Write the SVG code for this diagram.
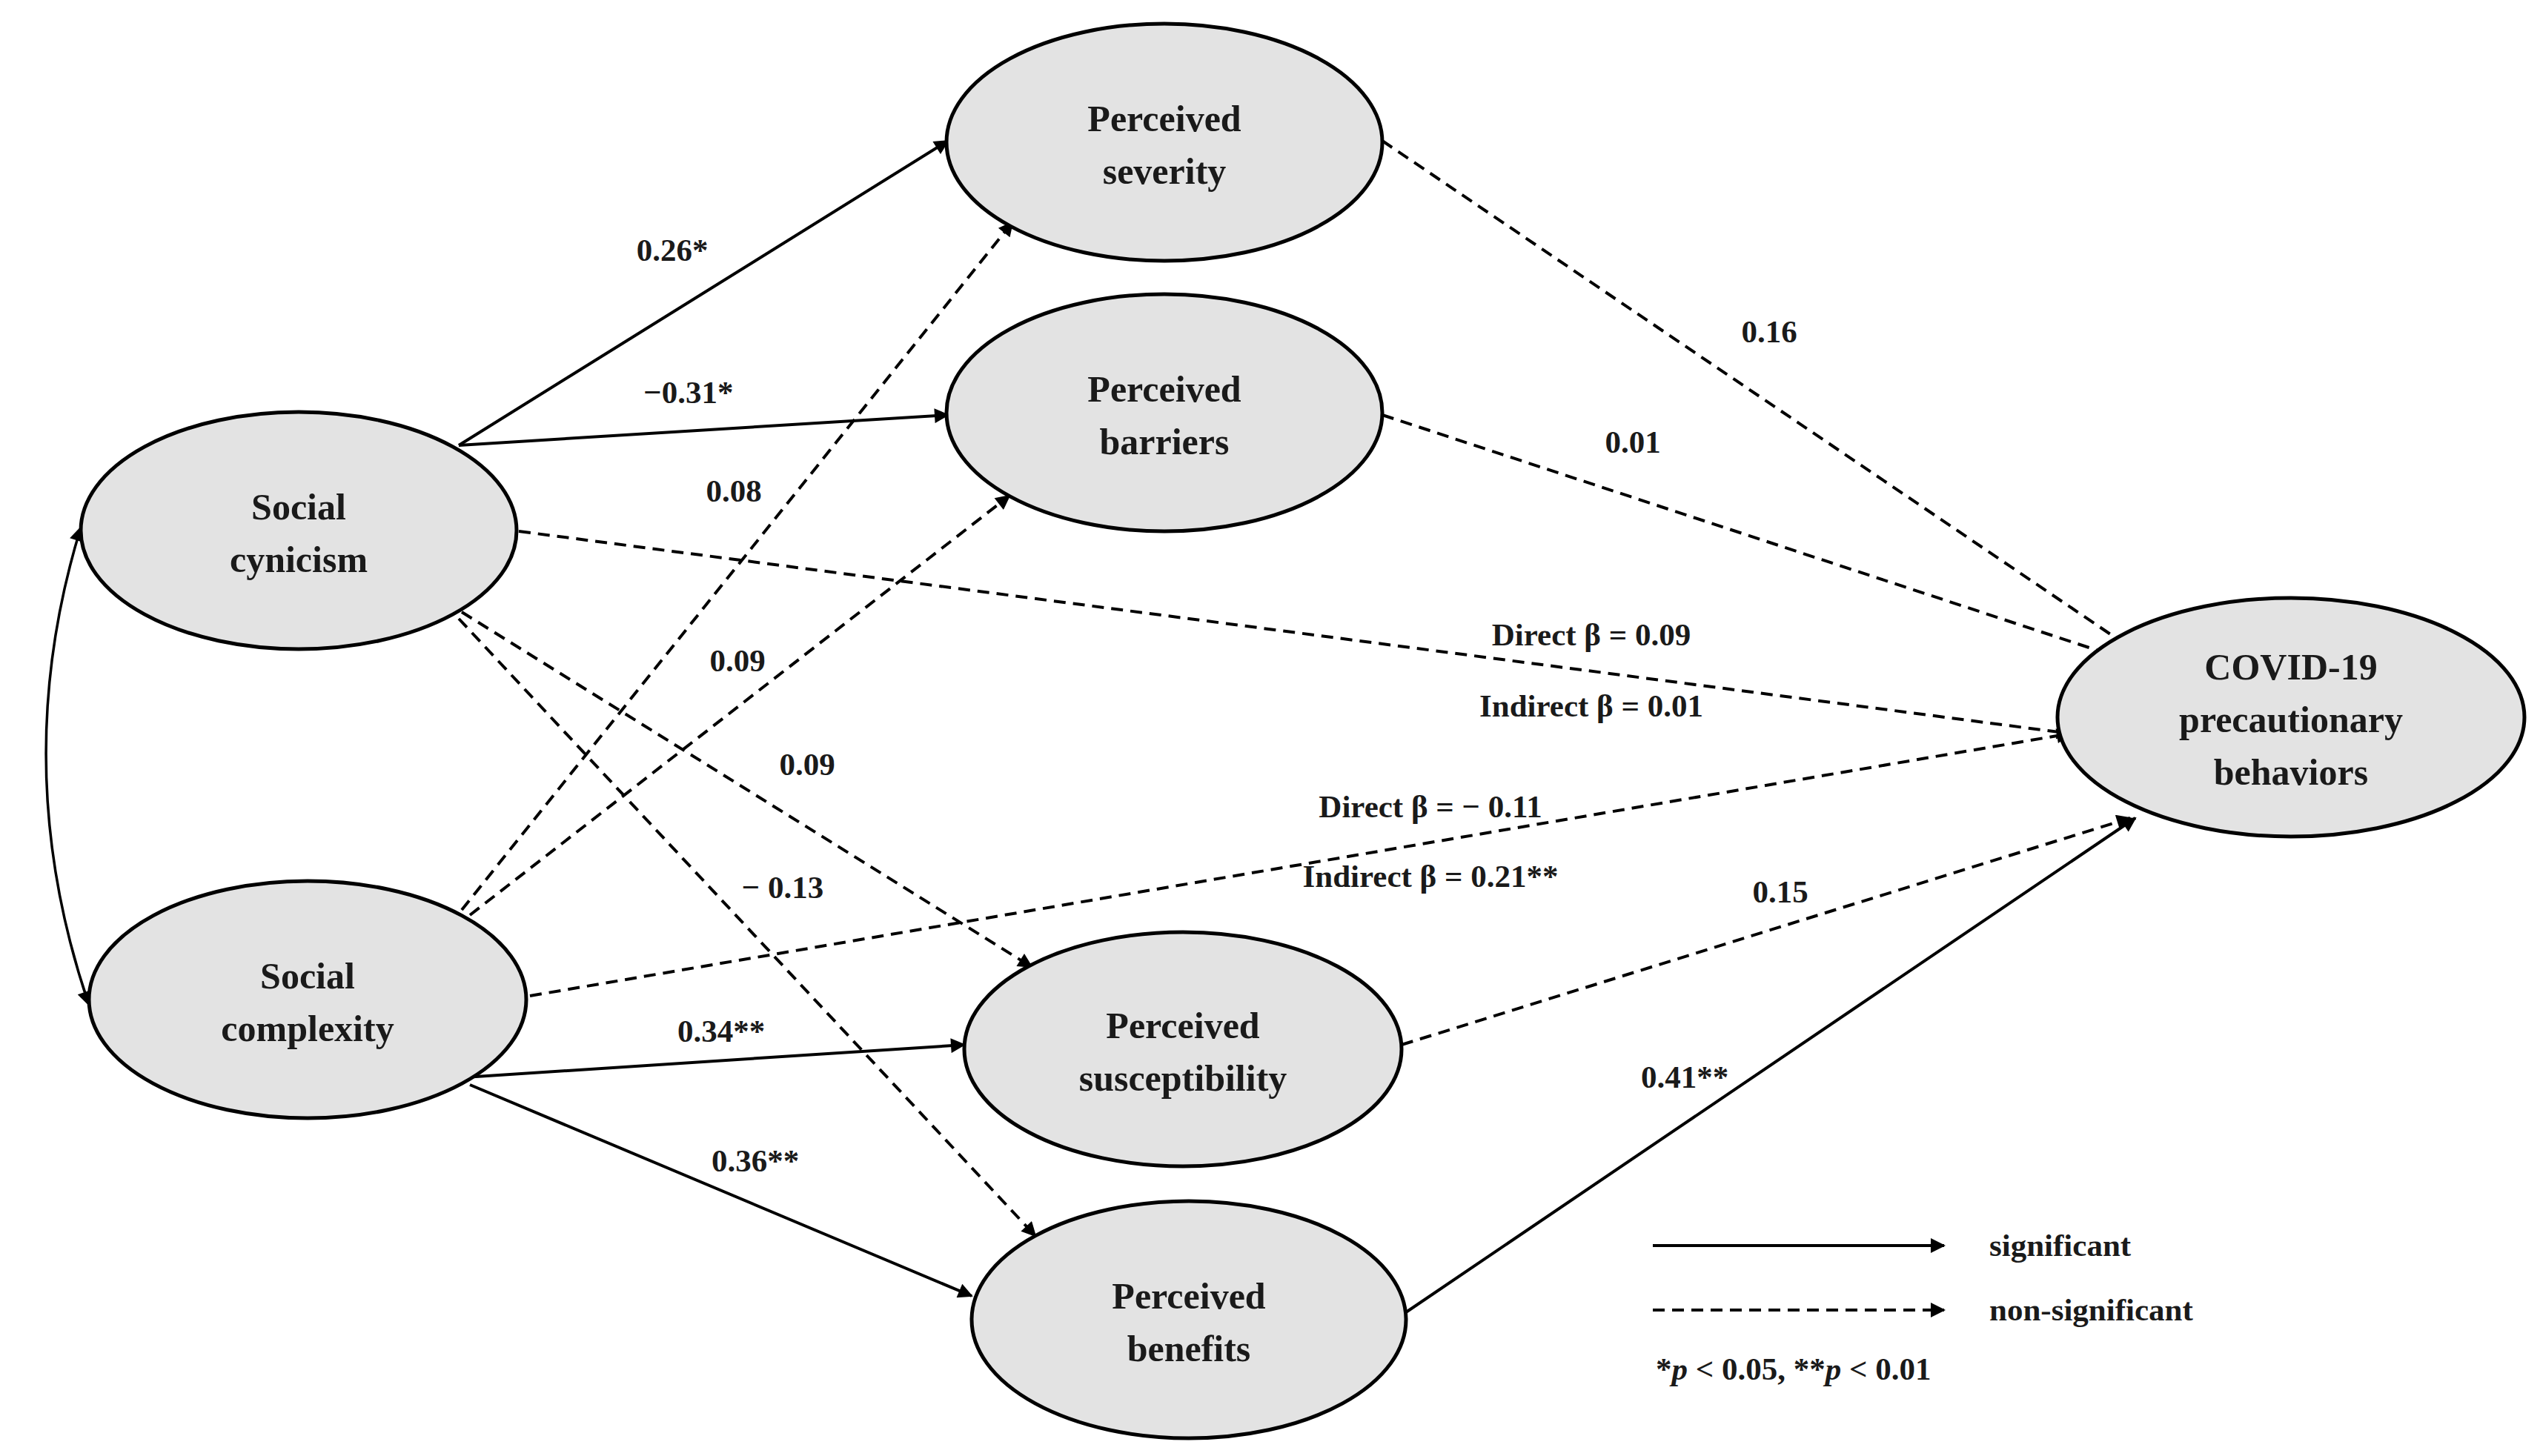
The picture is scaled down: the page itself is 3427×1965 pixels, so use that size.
<svg xmlns="http://www.w3.org/2000/svg" width="3427" height="1965" viewBox="0 0 3427 1965">
<style>
.n{fill:#e3e3e3;stroke:#000;stroke-width:5}
.t{font-family:"Liberation Serif",serif;font-weight:bold;font-size:50px;text-anchor:middle;fill:#1a1a1a}
.l{font-family:"Liberation Serif",serif;font-weight:bold;font-size:43px;text-anchor:middle;fill:#1a1a1a}
.s{fill:none;stroke:#000;stroke-width:4;marker-end:url(#a)}
.d{fill:none;stroke:#000;stroke-width:4;stroke-dasharray:16 10;marker-end:url(#a)}
</style>
<defs>
<marker id="a" viewBox="0 0 10 10" refX="9" refY="5" markerWidth="26" markerHeight="20" markerUnits="userSpaceOnUse" orient="auto-start-reverse"><path d="M0,0 L10,5 L0,10 z" fill="#000"/></marker>
</defs>
<rect width="3427" height="1965" fill="#fff"/>
<g id="connectors">
<path class="s" d="M619,601 L1279,190"/>
<path class="s" d="M619,601 L1279,560"/>
<path class="d" d="M623,1228 L1366,300"/>
<path class="d" d="M634,1235 L1362,669"/>
<path class="d" d="M623,826 L1392,1305"/>
<path class="d" d="M619,835 L1397,1668"/>
<path class="d" d="M700,717 L2793,990"/>
<path class="d" d="M715,1344 L2793,990"/>
<path class="s" d="M627,1454 L1301,1410"/>
<path class="s" d="M634,1464 L1311,1749"/>
<path class="d" d="M1865,190 L2874,874"/>
<path class="d" d="M1865,560 L2852,885"/>
<path class="d" d="M1891,1410 L2874,1104"/>
<path class="s" d="M1897,1771 L2881,1104"/>
<path class="s" style="stroke-width:3.5;marker-start:url(#a)" d="M109,712 Q10,1034 120,1356"/>
<path class="s" d="M2230,1681 L2623,1681"/>
<path class="d" d="M2230,1768 L2623,1768"/>
</g>
<g id="edge-labels">
<text class="l" x="907" y="352">0.26*</text>
<text class="l" x="929" y="544">−0.31*</text>
<text class="l" x="990" y="677">0.08</text>
<text class="l" x="995" y="906">0.09</text>
<text class="l" x="1089" y="1046">0.09</text>
<text class="l" x="1056" y="1212">− 0.13</text>
<text class="l" x="2147" y="871">Direct β  = 0.09</text>
<text class="l" x="2147" y="967">Indirect β = 0.01</text>
<text class="l" x="1930" y="1103">Direct β  = − 0.11</text>
<text class="l" x="1930" y="1197">Indirect β = 0.21**</text>
<text class="l" x="973" y="1406">0.34**</text>
<text class="l" x="1019" y="1581">0.36**</text>
<text class="l" x="2387" y="462">0.16</text>
<text class="l" x="2203" y="611">0.01</text>
<text class="l" x="2402" y="1218">0.15</text>
<text class="l" x="2273" y="1468">0.41**</text>
</g>
<g id="severity"><ellipse class="n" cx="1571" cy="192" rx="294" ry="160"/><text class="t" x="1571" y="177">Perceived</text><text class="t" x="1571" y="248">severity</text></g>
<g id="barriers"><ellipse class="n" cx="1571" cy="557" rx="294" ry="160"/><text class="t" x="1571" y="542">Perceived</text><text class="t" x="1571" y="613">barriers</text></g>
<g id="cynicism"><ellipse class="n" cx="403" cy="716" rx="294" ry="160"/><text class="t" x="403" y="701">Social</text><text class="t" x="403" y="772">cynicism</text></g>
<g id="complexity"><ellipse class="n" cx="415" cy="1349" rx="295" ry="160"/><text class="t" x="415" y="1334">Social</text><text class="t" x="415" y="1405">complexity</text></g>
<g id="susceptibility"><ellipse class="n" cx="1596" cy="1416" rx="295" ry="158"/><text class="t" x="1596" y="1401">Perceived</text><text class="t" x="1596" y="1472">susceptibility</text></g>
<g id="benefits"><ellipse class="n" cx="1604" cy="1781" rx="293" ry="160"/><text class="t" x="1604" y="1766">Perceived</text><text class="t" x="1604" y="1837">benefits</text></g>
<g id="covid"><ellipse class="n" cx="3091" cy="968" rx="315" ry="161"/><text class="t" x="3091" y="917">COVID-19</text><text class="t" x="3091" y="988">precautionary</text><text class="t" x="3091" y="1059">behaviors</text></g>
<g id="legend">
<text class="l" x="2684" y="1695" text-anchor="start" style="text-anchor:start">significant</text>
<text class="l" x="2684" y="1782" style="text-anchor:start">non-significant</text>
<text class="l" x="2234" y="1862" style="text-anchor:start">*<tspan font-style="italic">p</tspan> &lt; 0.05, **<tspan font-style="italic">p</tspan> &lt; 0.01</text>
</g>
</svg>
